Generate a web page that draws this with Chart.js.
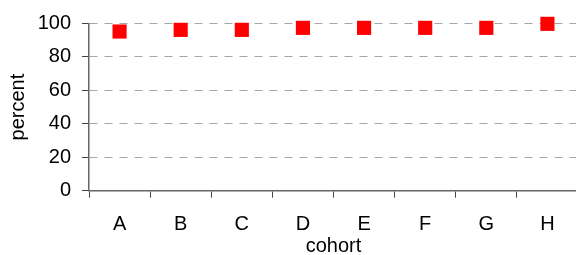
<!DOCTYPE html>
<html>
<head>
<meta charset="utf-8">
<script src="https://cdn.jsdelivr.net/npm/chart.js@4"></script>
<style>
  html, body { margin: 0; padding: 0; background: #fff; overflow: hidden; }
  #wrap { width: 588px; height: 258px; }
</style>
</head>
<body>
<div id="wrap"><canvas id="chart" width="588" height="258"></canvas></div>
<script>
// cohorts along the x axis
const cohorts = ['A', 'B', 'C', 'D', 'E', 'F', 'G', 'H'];
// percent per cohort
const percentValues = [95.2, 96.2, 96.2, 97.4, 97.4, 97.4, 97.4, 99.8];
const yTicks = [0, 20, 40, 60, 80, 100];

const font = { family: "'Liberation Sans', Arial, sans-serif", size: 20 };

const ctx = document.getElementById('chart').getContext('2d');
new Chart(ctx, {
    type: 'line',
    data: {
        labels: cohorts,
        datasets: [{
            label: 'percent',
            data: percentValues,
            showLine: false,
            clip: false,
            pointStyle: 'rect',
            pointRadius: 10,
            pointBorderWidth: 0,
            backgroundColor: '#ff0000',
            borderColor: '#ff0000'
        }]
    },
    options: {
        responsive: false,
        animation: false,
        layout: { padding: { left: 0, right: 1.5, top: 23.5, bottom: 0 } },
        plugins: { legend: { display: false }, tooltip: { enabled: false } },
        scales: {
            x: {
                offset: true,
                grid: {
                    offset: true,
                    drawOnChartArea: false,
                    drawTicks: true,
                    tickLength: 7,
                    tickColor: '#444',
                    tickWidth: 1
                },
                border: { color: '#666', width: 1.5 },
                ticks: { color: '#000', font: font, padding: 15, maxRotation: 0 },
                title: { display: true, text: 'cohort', color: '#000', font: font, padding: 0 },
                afterFit: function(scale) { scale.height = 67.3; }
            },
            y: {
                min: 0,
                max: 100,
                afterBuildTicks: function(scale) {
                    scale.ticks = yTicks.map(v => ({ value: v }));
                },
                grid: {
                    color: '#a6a6a6',
                    lineWidth: 1,
                    tickBorderDash: [],
                    tickLength: 7,
                    tickColor: '#444',
                    tickWidth: 1
                },
                border: { color: '#666', width: 1.5, dash: [8, 7] },
                ticks: { color: '#000', font: font, padding: 11 },
                title: { display: true, text: 'percent', color: '#000', font: font, padding: { top: 6, bottom: 0 } },
                afterFit: function(scale) { scale.width = 89; }
            }
        }
    }
});
</script>
</body>
</html>
